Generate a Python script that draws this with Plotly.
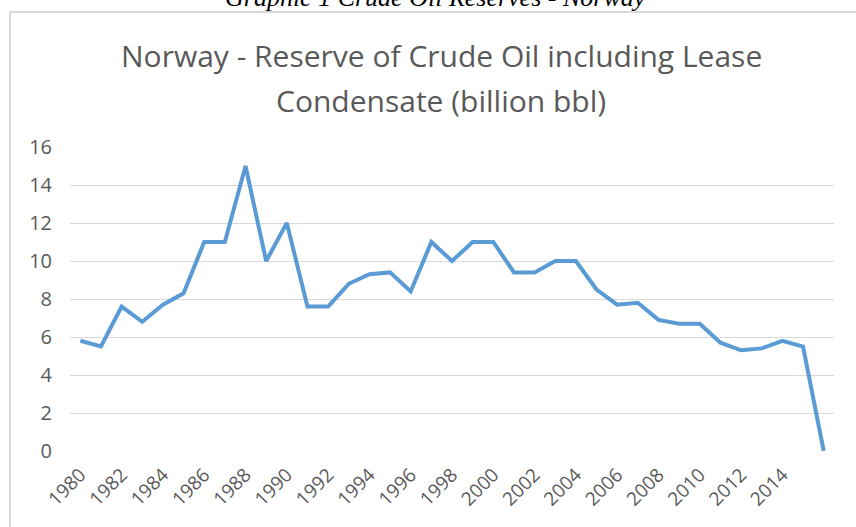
import plotly.graph_objects as go

years = list(range(1980, 2017))
reserves = [5.8, 5.5, 7.6, 6.8, 7.7, 8.3, 11.0, 11.0, 15.0, 10.0, 12.0,
            7.6, 7.6, 8.8, 9.3, 9.4, 8.4, 11.0, 10.0, 11.0, 11.0,
            9.4, 9.4, 10.0, 10.0, 8.5, 7.7, 7.8, 6.9, 6.7, 6.7,
            5.7, 5.3, 5.4, 5.8, 5.5, 0.0]
tick_years = list(range(1980, 2015, 2))
y_ticks = [0, 2, 4, 6, 8, 10, 12, 14, 16]

caption = "Graphic 1 Crude Oil Reserves - Norway"
title_line1 = "Norway - Reserve of Crude Oil including Lease"
title_line2 = "Condensate (billion bbl)"

W, H = 856, 527
L, R, T, B = 70, 22, 147, 76

fig = go.Figure()
fig.add_trace(go.Scatter(x=years, y=reserves, mode="lines",
                         line=dict(color="#5b9bd5", width=4),
                         hoverinfo="x+y"))

def px_x(p):
    return (p - L) / (W - L - R)

def px_y(p):
    return 1 - (p - T) / (H - T - B)

fig.update_layout(
    width=W, height=H,
    margin=dict(l=L, r=R, t=T, b=B, autoexpand=False),
    paper_bgcolor="white", plot_bgcolor="white",
    showlegend=False,
    font=dict(family="Open Sans", color="#595959"),
    xaxis=dict(range=[1979.5, 2016.5], tickmode="array", tickvals=tick_years,
               ticktext=[str(y) for y in tick_years], tickangle=-45,
               showgrid=False, zeroline=False, showline=False, ticks="",
               ticklabelstandoff=8,
               tickfont=dict(size=19, color="#595959")),
    yaxis=dict(range=[0, 16], tickmode="array", tickvals=y_ticks,
               showgrid=True, gridcolor="#d9d9d9", gridwidth=1,
               zeroline=False, showline=False, ticks="",
               ticklabelstandoff=17,
               tickfont=dict(size=20, color="#595959")),
    shapes=[dict(type="rect", xref="paper", yref="paper",
                 x0=px_x(10), x1=px_x(880), y0=px_y(12), y1=px_y(560),
                 line=dict(color="#d9d9d9", width=2), layer="below")],
    annotations=[
        dict(text="<i>" + caption + "</i>", xref="paper", yref="paper",
             x=px_x(435), y=px_y(14),
             xanchor="center", yanchor="bottom", showarrow=False,
             font=dict(family="Liberation Serif", size=26, color="black")),
        dict(text=title_line1, xref="paper", yref="paper", x=px_x(441), y=px_y(55),
             xanchor="center", yanchor="middle", showarrow=False,
             font=dict(family="Open Sans", size=30, color="#595959")),
        dict(text=title_line2, xref="paper", yref="paper", x=px_x(441), y=px_y(100),
             xanchor="center", yanchor="middle", showarrow=False,
             font=dict(family="Open Sans", size=30, color="#595959")),
    ],
)
fig.write_html("out.html", config={"displayModeBar": False},
               post_script="document.body.style.margin='0';document.body.style.overflow='hidden';")
